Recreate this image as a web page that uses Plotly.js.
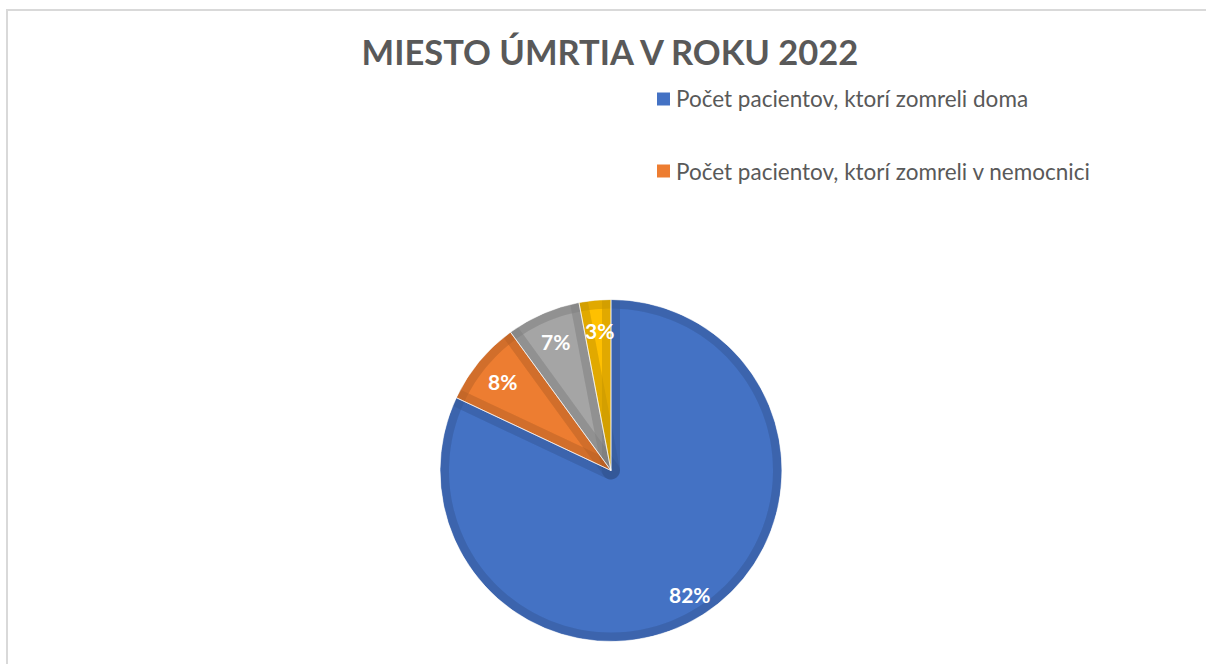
<!DOCTYPE html>
<html><head><meta charset="utf-8">
<script src="https://cdn.plot.ly/plotly-3.0.1.min.js"></script>
<style>html,body{margin:0;padding:0;background:#fff;}#chart{width:1206px;height:664px;}</style>
</head><body><div id="chart"></div>
<script>
// ---- data ----
const labels = ["Počet pacientov, ktorí zomreli doma", "Počet pacientov, ktorí zomreli v nemocnici", "Iné miesto", "Neznáme miesto"];
const values = [82, 8, 7, 3];
const legendCount = 2; // only the first two legend entries are visible in the reference
const titleText = "MIESTO ÚMRTIA V ROKU 2022";

// ---- style ----
const fillColors = ["#4472C4", "#ED7D31", "#A5A5A5", "#FFC000"];
const W = 1206, H = 664;
const cx = 611, cy = 470.5, R = 171, band = 9;
const textGray = "#595959";
const shade = "rgba(0,0,0,0.06)";

function dom(cxp, cyp, r) {
  return { x: [(cxp - r) / W, (cxp + r) / W], y: [(H - cyp - r) / H, (H - cyp + r) / H] };
}
const clear = values.map(() => "rgba(0,0,0,0)");
const base = {
  type: "pie", labels: labels, values: values, sort: false,
  direction: "clockwise", rotation: 0, domain: dom(cx, cy, R),
  textinfo: "none", showlegend: false
};
// 1: slice fills
const pieFill = Object.assign({}, base, {
  marker: { colors: fillColors, line: { width: 0 } },
  hoverinfo: "label+percent"
});
// 2: darker inner band along slice outlines (radial edges get drawn twice, rim once)
const pieEdges = Object.assign({}, base, {
  marker: { colors: clear, line: { color: shade, width: band * 2 } },
  hoverinfo: "skip"
});
// 3: extra rim pass so the rim matches the radial edges
const rim = {
  type: "pie", values: [1], labels: ["rim"], sort: false, domain: dom(cx, cy, R),
  marker: { colors: ["rgba(0,0,0,0)"], line: { color: shade, width: band * 2 } },
  textinfo: "none", hoverinfo: "skip", showlegend: false
};
// 4: thin light separators between slices
const pieSep = Object.assign({}, base, {
  marker: { colors: clear, line: { color: "rgba(255,255,255,0.55)", width: 1 } },
  hoverinfo: "skip"
});
// 5: white ring hiding the outer half of the strokes
const Rc = R + 20;
const cover = {
  type: "pie", values: [1], labels: ["cover"], hole: R / Rc, domain: dom(cx, cy, Rc),
  marker: { colors: ["#ffffff"], line: { width: 0 } },
  textinfo: "none", hoverinfo: "skip", showlegend: false, sort: false
};

// percentage labels computed from values
const total = values.reduce((a, b) => a + b, 0);
const annotations = [];
let cum = 0;
const Rl = 0.84 * R;
values.forEach((v, i) => {
  const mid = (cum + v / 2) / total * 2 * Math.PI;
  cum += v;
  annotations.push({
    xref: "paper", yref: "paper",
    x: (cx + 2 + Rl * Math.sin(mid)) / W,
    y: (H - cy + Rl * Math.cos(mid) - 3) / H,
    text: "<b>" + Math.round(v / total * 100) + "%</b>",
    showarrow: false,
    font: { family: "Lato, sans-serif", size: 21, color: "#ffffff" },
    xanchor: "center", yanchor: "middle"
  });
});

// legend (only entries visible in the reference)
const shapes = [];
const legX = 657, legY0 = 99, legStep = 72, sq = 13;
for (let i = 0; i < legendCount; i++) {
  const yc = legY0 + i * legStep;
  shapes.push({
    type: "rect", xref: "paper", yref: "paper",
    x0: legX / W, x1: (legX + sq) / W,
    y0: (H - yc - sq / 2) / H, y1: (H - yc + sq / 2) / H,
    fillcolor: fillColors[i], line: { width: 0 }
  });
  annotations.push({
    xref: "paper", yref: "paper",
    x: (legX + sq + 4) / W, y: (H - yc) / H,
    text: labels[i], showarrow: false,
    xanchor: "left", yanchor: "middle",
    font: { family: "Lato, sans-serif", size: 22.5, color: textGray }
  });
}
// chart frame
shapes.push({
  type: "rect", xref: "paper", yref: "paper",
  x0: 7 / W, x1: 1208 / W, y0: -0.05, y1: (H - 10) / H,
  line: { color: "#D9D9D9", width: 2 }, fillcolor: "rgba(0,0,0,0)", layer: "below"
});

const layout = {
  width: W, height: H,
  margin: { l: 0, r: 0, t: 0, b: 0 },
  paper_bgcolor: "#ffffff",
  title: {
    text: "<b>" + titleText + "</b>",
    x: 610 / W, xanchor: "center",
    y: 1 - 53 / H, yanchor: "middle",
    font: { family: "Lato, sans-serif", size: 34.5, color: textGray }
  },
  annotations: annotations,
  shapes: shapes,
  showlegend: false
};

Plotly.newPlot("chart", [pieFill, pieEdges, rim, pieSep, cover], layout, { displayModeBar: false });
</script>
</body></html>
